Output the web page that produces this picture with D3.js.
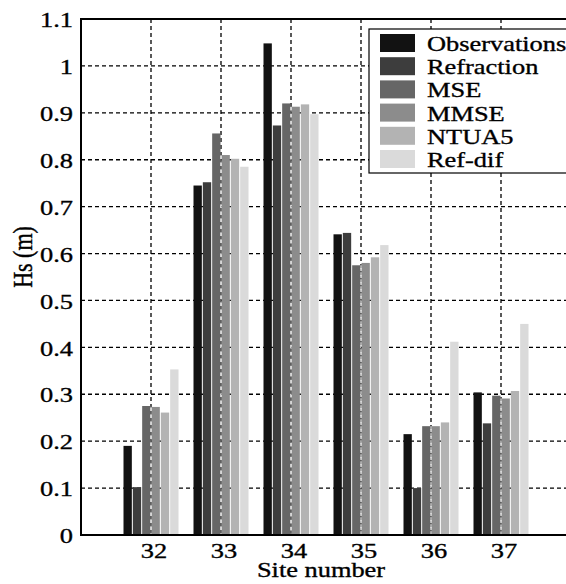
<!DOCTYPE html>
<html><head><meta charset="utf-8">
<script src="https://cdn.jsdelivr.net/npm/d3@7"></script>
<style>body{margin:0;background:#fff}svg{display:block}svg text{font-family:"Liberation Serif","Tinos","Nimbus Roman",serif;stroke:#000;stroke-width:0.35px;fill:#000}</style>
</head><body>
<script>
const sites = [32, 33, 34, 35, 36, 37];
const seriesNames = ["Observations", "Refraction", "MSE", "MMSE", "NTUA5", "Ref-dif"];
const observations = [0.190, 0.745, 1.048, 0.641, 0.215, 0.304];
const refraction   = [0.102, 0.752, 0.873, 0.644, 0.100, 0.238];
const mse          = [0.275, 0.856, 0.920, 0.575, 0.232, 0.297];
const mmse         = [0.273, 0.810, 0.913, 0.580, 0.232, 0.291];
const ntua5        = [0.261, 0.802, 0.918, 0.592, 0.240, 0.307];
const refdif       = [0.353, 0.785, 0.897, 0.618, 0.412, 0.450];
const colors = ["#121212", "#3d3d3d", "#666666", "#8c8c8c", "#b3b3b3", "#dadada"];
const yTicks = [0, 0.1, 0.2, 0.3, 0.4, 0.5, 0.6, 0.7, 0.8, 0.9, 1, 1.1];
const yTickLabels = ["0", "0.1", "0.2", "0.3", "0.4", "0.5", "0.6", "0.7", "0.8", "0.9", "1", "1.1"];

const series = [observations, refraction, mse, mmse, ntua5, refdif];
const W = 566, H = 584;
const SX = 1.2; // horizontal stretch of text

const svg = d3.select("body").append("svg").attr("width", W).attr("height", H);
const x = d3.scaleLinear().domain([31, 38]).range([81, 571]);
const y = d3.scaleLinear().domain([0, 1.1]).range([535, 19]);
const groupW = (x(32) - x(31)) * 0.8;
const slot = groupW / series.length;

// horizontal grid (behind bars)
svg.append("g").selectAll("line").data(yTicks.filter(t => t > 0 && t < 1.1)).join("line")
  .attr("x1", x(31)).attr("x2", W).attr("y1", d => y(d)).attr("y2", d => y(d))
  .attr("stroke", "#000").attr("stroke-width", 1.3).attr("stroke-dasharray", "4,3");
// vertical grid (behind bars)
svg.append("g").selectAll("line").data(sites).join("line")
  .attr("x1", d => x(d)).attr("x2", d => x(d)).attr("y1", y(1.1)).attr("y2", y(0))
  .attr("stroke", "#000").attr("stroke-width", 1.3).attr("stroke-dasharray", "4,3");

// bars
const gBars = svg.append("g");
series.forEach((vals, si) => {
  gBars.append("g").selectAll("rect").data(vals).join("rect")
    .attr("x", (d, i) => x(sites[i]) - groupW / 2 + si * slot + 0.5)
    .attr("width", slot - 1)
    .attr("y", d => y(d))
    .attr("height", d => y(0) - y(d))
    .attr("fill", colors[si]);
});
// light grid overlay through bars
svg.append("g").selectAll("line").data(sites).join("line")
  .attr("x1", d => x(d)).attr("x2", d => x(d))
  .attr("y1", (d, i) => y(Math.min(mse[i], mmse[i]))).attr("y2", y(0))
  .attr("stroke", "#e8e8e8").attr("stroke-width", 1).attr("stroke-dasharray", "4,3");

// axes frame
svg.append("line").attr("x1", x(31)).attr("x2", W).attr("y1", y(0)).attr("y2", y(0))
  .attr("stroke", "#000").attr("stroke-width", 2);
svg.append("line").attr("x1", x(31)).attr("x2", W).attr("y1", y(1.1)).attr("y2", y(1.1))
  .attr("stroke", "#000").attr("stroke-width", 2);
svg.append("line").attr("x1", x(31)).attr("x2", x(31)).attr("y1", y(1.1) - 1).attr("y2", y(0) + 1)
  .attr("stroke", "#000").attr("stroke-width", 2);

// y tick labels
const yAxis = svg.append("g").attr("transform", `translate(${x(31)},0)`)
  .call(d3.axisLeft(y).tickValues(yTicks).tickFormat((d, i) => yTickLabels[i]).tickSize(0).tickPadding(7));
yAxis.select(".domain").remove();
yAxis.attr("font-family", null);
yAxis.selectAll("text").attr("font-size", 22)
  .attr("dy", "0.35em")
  .attr("transform", `scale(${SX},1)`).attr("x", -8 / SX);

// x tick labels
const xAxis = svg.append("g").attr("transform", `translate(2.5,${y(0)})`)
  .call(d3.axisBottom(x).tickValues(sites).tickFormat(d3.format("d")).tickSize(0).tickPadding(0));
xAxis.select(".domain").remove();
xAxis.attr("font-family", null);
xAxis.selectAll("text").attr("font-size", 22)
  .attr("y", 23).attr("dy", 0).attr("transform", `scale(${SX},1)`);

// axis titles
svg.append("text").attr("transform", `translate(${321},577) scale(${SX},1)`)
  .attr("text-anchor", "middle").attr("font-size", 22).text("Site number");
svg.append("text").attr("transform", `translate(32,257) rotate(-90) scale(1,${SX})`)
  .attr("text-anchor", "middle").attr("font-size", 22).text("Hs (m)");

// legend
const leg = svg.append("g");
leg.append("rect").attr("x", 369).attr("y", 29).attr("width", 220).attr("height", 144)
  .attr("fill", "#fff").attr("stroke", "#000").attr("stroke-width", 1.2);
seriesNames.forEach((name, i) => {
  const cy = 43 + i * 23.2;
  leg.append("rect").attr("x", 380).attr("y", cy - 9).attr("width", 35).attr("height", 18).attr("fill", colors[i]);
  leg.append("text").attr("transform", `translate(427,${cy + 8}) scale(${SX},1)`)
    .attr("font-size", 22).text(name);
});
</script>
</body></html>
